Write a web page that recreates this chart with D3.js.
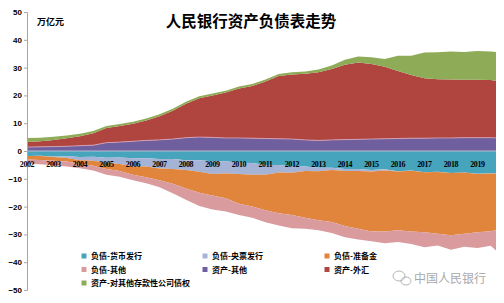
<!DOCTYPE html>
<html lang="zh">
<head>
<meta charset="UTF-8">
<title>人民银行资产负债表走势</title>
<script src="https://cdnjs.cloudflare.com/ajax/libs/d3/7.6.1/d3.min.js"></script>
<style>
  body { margin: 0; background: #fff; }
  text { font-family: "Noto Sans CJK SC", "Liberation Sans", sans-serif; }
</style>
</head>
<body>
<svg id="chart" width="504" height="303"></svg>
<script>
// half-year observations, 万亿元
const dates = [2002.0, 2002.5, 2003.0, 2003.5, 2004.0, 2004.5, 2005.0, 2005.5, 2006.0, 2006.5,
  2007.0, 2007.5, 2008.0, 2008.5, 2009.0, 2009.5, 2010.0, 2010.5, 2011.0, 2011.5,
  2012.0, 2012.5, 2013.0, 2013.5, 2014.0, 2014.5, 2015.0, 2015.5, 2016.0, 2016.5,
  2017.0, 2017.5, 2018.0, 2018.5, 2019.0, 2019.5, 2019.7];

// liabilities (drawn below zero)
const currency = [1.8, 1.7, 2.0, 1.9, 2.2, 2.1, 2.4, 2.3, 2.6, 2.6, 2.9, 2.9, 3.3, 3.3, 3.7, 3.7,
  4.2, 4.3, 5.0, 5.0, 5.6, 5.6, 6.0, 6.0, 6.5, 6.5, 6.8, 6.6, 7.3, 7.0, 7.6, 7.5, 7.9, 7.7, 8.2, 8.0, 8.1];
const bills = [0, 0.1, 0.2, 0.6, 1.1, 1.4, 1.8, 2.4, 2.9, 3.0, 3.4, 3.6, 3.5, 4.2, 4.6, 4.4,
  4.1, 4.2, 3.5, 2.7, 2.2, 1.6, 1.3, 0.8, 0.7, 0.7, 0.6, 0.4, 0.07, 0.06, 0.05, 0.05, 0.05, 0.05, 0.05, 0.05, 0.05];
const reserves = [1.3, 1.4, 1.3, 1.3, 1.3, 1.8, 2.3, 2.5, 3.0, 3.8, 4.2, 5.3, 6.7, 7.5, 7.7, 8.9,
  10.7, 11.5, 12.8, 14.7, 15.2, 16.8, 17.6, 18.7, 19.8, 20.8, 21.6, 22.0, 21.1, 21.9, 21.6, 22.2, 22.4, 22.0, 21.0, 20.8, 20.4];
const otherLiab = [1.5, 1.6, 1.6, 1.8, 1.6, 1.7, 2.0, 2.1, 2.0, 2.2, 2.5, 3.4, 4.0, 4.8, 5.0, 4.8,
  4.0, 4.0, 4.3, 4.4, 4.8, 4.0, 3.6, 4.0, 4.0, 3.8, 3.5, 4.2, 4.3, 4.5, 5.4, 4.2, 5.2, 4.7, 5.6, 5.2, 7.2];

// assets (drawn above zero)
const otherAsset = [1.4, 1.5, 1.6, 1.7, 1.9, 2.1, 3.0, 3.2, 3.5, 3.8, 4.0, 4.3, 4.8, 5.0, 4.9, 4.7,
  4.7, 4.6, 4.5, 4.4, 4.3, 4.0, 3.8, 4.0, 4.1, 4.2, 4.3, 4.4, 4.5, 4.6, 4.6, 4.7, 4.7, 4.8, 4.8, 4.8, 4.7];
const forex = [1.8, 2.0, 2.4, 2.9, 3.4, 4.3, 5.3, 5.8, 6.3, 7.2, 8.5, 10.2, 12.2, 14.0, 15.1, 16.3,
  17.8, 18.8, 20.5, 22.6, 23.2, 23.8, 24.5, 25.5, 26.9, 27.6, 27.0, 25.9, 24.3, 22.7, 21.6, 21.1, 21.0, 20.8, 20.8, 20.7, 20.6];
const claimsODC = [1.5, 1.3, 1.1, 1.0, 0.9, 0.8, 0.7, 0.7, 0.7, 0.7, 0.7, 0.7, 0.7, 0.7, 0.7, 0.7,
  0.7, 0.7, 0.7, 0.7, 0.8, 0.8, 1.0, 1.3, 1.8, 2.2, 2.4, 2.8, 5.5, 7.0, 9.2, 9.7, 10.1, 10.0, 10.4, 10.3, 10.3];

const seriesNames = ["负债-货币发行", "负债-央票发行", "负债-准备金", "负债-其他",
  "资产-其他", "资产-外汇", "资产-对其他存款性公司债权"];
const colors = ["#46a5bc", "#a4b3d6", "#e0853b", "#d99b9e", "#6f5f9e", "#b0443f", "#8eab57"];
const yTicks = [50, 40, 30, 20, 10, 0, -10, -20, -30, -40, -50];
const yearLabels = d3.range(2002, 2020);

const svg = d3.select("#chart");

const x = d3.scaleLinear().domain([2002, 2019.7]).range([27, 496]);
const y = d3.scaleLinear().domain([-50, 50]).range([290, 12]);

// table for the stack; liabilities negative
const table = dates.map((d, i) => ({
  date: d,
  [seriesNames[0]]: -currency[i],
  [seriesNames[1]]: -bills[i],
  [seriesNames[2]]: -reserves[i],
  [seriesNames[3]]: -otherLiab[i],
  [seriesNames[4]]: otherAsset[i],
  [seriesNames[5]]: forex[i],
  [seriesNames[6]]: claimsODC[i]
}));

const stacked = d3.stack().keys(seriesNames).offset(d3.stackOffsetDiverging)(table);

const area = d3.area()
  .x(d => x(d.data.date))
  .y0(d => y(d[0]))
  .y1(d => y(d[1]));

svg.append("g")
  .selectAll("path")
  .data(stacked)
  .join("path")
  .attr("fill", (d, i) => colors[i])
  .attr("d", area);

// light edge on top of the 资产-其他 band
svg.append("path")
  .datum(stacked[4])
  .attr("fill", "none")
  .attr("stroke", "#d9a9bd")
  .attr("stroke-width", 0.8)
  .attr("d", d3.line().x(d => x(d.data.date)).y(d => y(d[1])));

// zero line
svg.append("line")
  .attr("x1", 27).attr("x2", 496)
  .attr("y1", y(0)).attr("y2", y(0))
  .attr("stroke", "#b9bdd0").attr("stroke-width", 1);

// y axis
const yAxis = d3.axisLeft(y).tickValues(yTicks).tickSize(3).tickFormat(d3.format("d"));
const gy = svg.append("g").attr("transform", "translate(27,0)").call(yAxis);
gy.select(".domain").attr("stroke", "#a6a6a6");
gy.selectAll(".tick line").attr("stroke", "#a6a6a6");
gy.selectAll(".tick text")
  .attr("x", -5)
  .style("font-family", "'Liberation Sans', sans-serif")
  .style("font-size", "8px")
  .style("font-weight", "bold")
  .attr("fill", "#000");

// year labels along zero line
svg.append("g")
  .selectAll("text")
  .data(yearLabels)
  .join("text")
  .attr("x", d => x(d))
  .attr("y", y(0) + 16)
  .attr("text-anchor", "middle")
  .style("font-family", "'Liberation Serif', serif")
  .style("font-size", "8px")
  .style("font-weight", "bold")
  .style("letter-spacing", "-0.4px")
  .text(d => d);

// title and unit
svg.append("text")
  .attr("x", 251).attr("y", 27)
  .attr("text-anchor", "middle")
  .style("font-size", "15.5px")
  .style("font-weight", "bold")
  .text("人民银行资产负债表走势");

svg.append("text")
  .attr("x", 37).attr("y", 25)
  .style("font-size", "9px")
  .style("font-weight", "bold")
  .text("万亿元");

// legend
const legendOrder = [0, 1, 2, 3, 4, 5, 6];
const legend = svg.append("g")
  .selectAll("g")
  .data(legendOrder)
  .join("g")
  .attr("transform", (d, i) => `translate(${[84, 205, 327][i % 3]},${[256, 269.5, 283][Math.floor(i / 3)]})`);

legend.append("rect")
  .attr("x", -2.5).attr("y", -2.5)
  .attr("width", 5).attr("height", 5)
  .attr("fill", d => colors[d]);

legend.append("text")
  .attr("x", 7).attr("y", 3)
  .style("font-size", "8px")
  .style("font-weight", "bold")
  .text(d => seriesNames[d]);

// watermark
const wm = svg.append("g").attr("fill", "none").attr("stroke", "#b5b5b5").attr("stroke-width", 1);
wm.append("ellipse").attr("cx", 399).attr("cy", 276).attr("rx", 6).attr("ry", 5);
wm.append("ellipse").attr("cx", 406).attr("cy", 281).attr("rx", 5).attr("ry", 4);
svg.append("text")
  .attr("x", 414).attr("y", 283)
  .attr("fill", "#a9a9a9")
  .style("font-size", "12px")
  .text("中国人民银行");
</script>
</body>
</html>
